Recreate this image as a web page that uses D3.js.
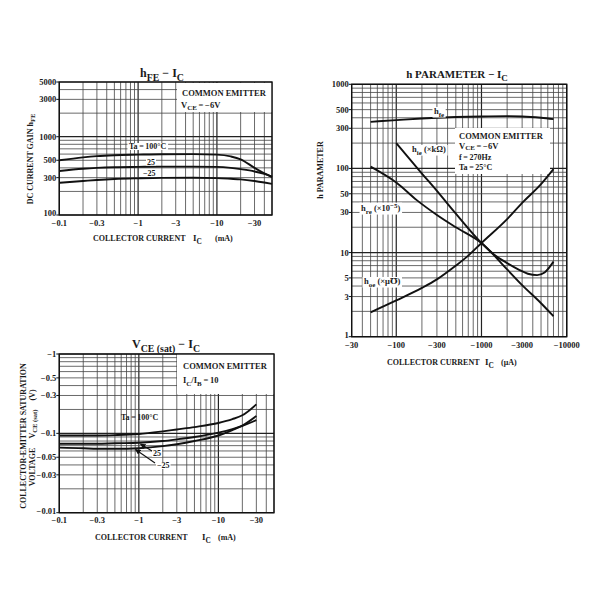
<!DOCTYPE html>
<html><head><meta charset="utf-8">
<script src="https://cdn.jsdelivr.net/npm/d3@7"></script>
<style>
body{margin:0;background:#fff}
text{font-family:"Liberation Serif","DejaVu Serif",serif;font-weight:bold;fill:#1a1a1a}
</style>
</head><body><svg id="c" width="600" height="600"></svg>
<script>
// ---------- DATA ----------
// hFE - IC  (IC in mA, magnitudes)
const hfeIc   = [0.1,0.2,0.3,0.5,1,2,5,10,15,20,30,40,50];
const hfe100  = [500,545,565,580,590,598,600,590,560,515,400,340,305];
const hfe25   = [365,390,400,408,412,415,415,412,400,385,360,335,310];
const hfeM25  = [258,272,280,288,294,298,299,296,290,285,272,260,250];
const hfeXTicks = [0.1,0.3,1,3,10,30];
const hfeXLabels = ["\u22120.1","\u22120.3","\u22121","\u22123","\u221210","\u221230"];
const hfeYTicks = [100,300,500,1000,3000,5000];
const hfeYLabels = ["100","300","500","1000","3000","5000"];

// h parameter - IC (IC in uA, magnitudes)
const hfeSmallX = [50,100,200,300,500,1000,2000,3000,5000,7000];
const hfeSmallY = [358,375,392,400,408,415,418,415,400,385];
const hieX = [100,200,300,500,1000,1400,2000,2800,3500,4500,5500,7000];
const hieY = [200,87,54,29,13,9.5,7.5,6.2,5.6,5.4,5.8,7.8];
const hreX = [50,100,174,300,500,1000,2000,3000,5000,7000];
const hreY = [105,68,42,28,20,13,6.3,4.1,2.5,1.75];
const hoeX = [50,100,200,300,500,700,1000,2000,3000,5000,7000];
const hoeY = [1.95,2.7,3.8,4.8,7,9.2,13,25,39,65,98];
const hpXTicks = [30,100,300,1000,3000,10000];
const hpXLabels = ["\u221230","\u2212100","\u2212300","\u22121000","\u22123000","\u221210000"];
const hpYTicks = [1,3,5,10,30,50,100,300,500,1000];
const hpYLabels = ["1","3","5","10","30","50","100","300","500","1000"];

// VCE(sat) - IC (IC in mA, V magnitudes)
const vceIc   = [0.1,0.2,0.3,0.5,1,2,3,5,10,15,20,30];
const vce100  = [0.094,0.094,0.094,0.095,0.098,0.106,0.112,0.12,0.135,0.151,0.169,0.232];
const vce25   = [0.074,0.074,0.074,0.075,0.076,0.08,0.084,0.09,0.102,0.113,0.124,0.147];
const vceM25  = [0.066,0.065,0.064,0.064,0.065,0.069,0.073,0.08,0.094,0.11,0.125,0.165];
const vceXTicks = [0.1,0.3,1,3,10,30];
const vceXLabels = ["\u22120.1","\u22120.3","\u22121","\u22123","\u221210","\u221230"];
const vceYTicks = [0.01,0.03,0.05,0.1,0.3,0.5,1];
const vceYLabels = ["\u22120.01","\u22120.03","\u22120.05","\u22120.1","\u22120.3","\u22120.5","\u22121"];

// ---------- DRAW ----------
const svg = d3.select("#c");

function rich(g, x, y, parts, size, anchor, transform, subShift){
  const t = g.append("text").attr("x",x).attr("y",y).attr("font-size",size)
    .attr("text-anchor",anchor||"start");
  if(transform) t.attr("transform",transform);
  let shift = 0;
  const sub = subShift==null ? 0.3 : subShift;
  parts.forEach(p=>{
    const s = typeof p==="string"?p:p[0];
    const k = typeof p==="string"?"":p[1];
    const target = k==="sub"? size*sub : k==="sup"? -size*0.4 : 0;
    const ts = t.append("tspan").text(s).attr("dy", target-shift);
    if(k) ts.attr("font-size", size*0.82);
    shift = target;
  });
  return t;
}
function withBg(g, t, pad){
  pad = pad||1;
  const b = t.node().getBBox();
  g.insert("rect", ()=>t.node()).attr("x",b.x-pad).attr("y",b.y+1).attr("width",b.width+2*pad)
    .attr("height",b.height-2).attr("fill","#fff");
}
function gridVals(d0,d1){
  const out=[];
  for(let e=Math.floor(Math.log10(d0))-1;e<=Math.ceil(Math.log10(d1));e++){
    for(let m=1;m<=9;m++){
      const v=+(m*Math.pow(10,e)).toPrecision(6);
      if(v>=d0*0.999 && v<=d1*1.001) out.push({v, major:m===1});
    }
  }
  return out;
}

function panel(cfg){
  const g = svg.append("g");
  const x = d3.scaleLog().domain(cfg.xd).range(cfg.xr);
  const y = d3.scaleLog().domain(cfg.yd).range(cfg.yr);
  const [x0,x1]=cfg.xr, [y0,y1]=cfg.yr;
  gridVals(cfg.xd[0],cfg.xd[1]).forEach(d=>{
    g.append("line").attr("x1",x(d.v)).attr("x2",x(d.v)).attr("y1",y0).attr("y2",y1)
      .attr("stroke", d.major?"#222":"#444").attr("stroke-width", d.major?1.2:0.8);
  });
  gridVals(cfg.yd[0],cfg.yd[1]).forEach(d=>{
    g.append("line").attr("x1",x0).attr("x2",x1).attr("y1",y(d.v)).attr("y2",y(d.v))
      .attr("stroke", d.major?"#222":"#444").attr("stroke-width", d.major?1.2:0.8);
  });
  (cfg.boxes||[]).forEach(b=>g.append("rect").attr("x",b[0]).attr("y",b[1]).attr("width",b[2]).attr("height",b[3]).attr("fill","#fff"));
  g.append("rect").attr("x",x0).attr("y",y1).attr("width",x1-x0).attr("height",y0-y1)
    .attr("fill","none").attr("stroke","#111").attr("stroke-width",1.4);
  const line = d3.line().x(d=>x(d[0])).y(d=>y(d[1])).curve(d3.curveMonotoneX);
  cfg.series.forEach(s=>{
    g.append("path").attr("d", line(s[0].map((v,i)=>[v,s[1][i]])))
      .attr("fill","none").attr("stroke","#111").attr("stroke-width",1.9);
  });
  cfg.xt.forEach((v,i)=>{
    g.append("text").attr("x",x(v)).attr("y",y0+(cfg.xlOff||10.5)).attr("font-size",8.5)
      .attr("text-anchor","middle").text(cfg.xl[i]);
  });
  cfg.yt.forEach((v,i)=>{
    g.append("line").attr("x1",x0-3).attr("x2",x0).attr("y1",y(v)).attr("y2",y(v)).attr("stroke","#111").attr("stroke-width",1);
    const dy = (i===0 && cfg.firstYUp) ? 1 : 3;
    g.append("text").attr("x",x0-3).attr("y",y(v)+dy).attr("font-size",8.5)
      .attr("text-anchor","end").text(cfg.yl[i]);
  });
  return {g,x,y};
}

// ---- Panel 1: hFE - IC
panel({xd:[0.1,50], xr:[59.3,272], yd:[100,5000], yr:[215,82],
  boxes:[[177,83,95,29]],
  series:[[hfeIc,hfe100],[hfeIc,hfe25],[hfeIc,hfeM25]],
  xt:hfeXTicks, xl:hfeXLabels, yt:hfeYTicks, yl:hfeYLabels, firstYUp:true});
rich(svg,162,77,["h",["FE","sub"]," \u2212 I",["C","sub"]],12,"middle");
rich(svg,182,96,["COMMON EMITTER"],8.5);
rich(svg,181,107.5,["V",["CE","sub"],"\u2009=\u2009\u22126V"],8.5);
withBg(svg, rich(svg,129,149,["Ta\u2009=\u2009100\u00B0C"],8), 1.5);
withBg(svg, rich(svg,147,164.5,["25"],8), 1);
withBg(svg, rich(svg,143,176,["\u221225"],8), 1);
rich(svg,0,0,["DC CURRENT GAIN  h",["FE","sub"]],8,"middle","translate(33,159) rotate(-90)");
rich(svg,93,241,["COLLECTOR CURRENT"],8);
rich(svg,193,241,["I",["C","sub"]],9);
rich(svg,215,241,["(mA)"],8);

// ---- Panel 2: h parameter - IC
panel({xd:[30,10000], xr:[351.7,566.7], yd:[1,1000], yr:[336.7,84.3],
  boxes:[[455,128,95,46]],
  series:[[hfeSmallX,hfeSmallY],[hieX,hieY],[hreX,hreY],[hoeX,hoeY]],
  xt:hpXTicks, xl:hpXLabels, yt:hpYTicks, yl:hpYLabels, xlOff:11, firstYUp:true});
rich(svg,457,78,["h PARAMETER \u2212 I",["C","sub"]],11,"middle");
rich(svg,459,139,["COMMON EMITTER"],8.5);
rich(svg,459,148.5,["V",["CE","sub"],"\u2009=\u2009\u22126V"],8.5,null,null,0.2);
rich(svg,459,160,["f\u2009=\u2009270Hz"],8);
rich(svg,459,170,["Ta\u2009=\u200925\u00B0C"],8);
withBg(svg, rich(svg,434,114,["h",["fe","sub"]],8.5), 1.5);
withBg(svg, rich(svg,412,152,["h",["ie","sub"]," (\u00D7k\u03A9)"],8.5), 1.5);
withBg(svg, rich(svg,361,211,["h",["re","sub"]," (\u00D710",["\u22125","sup"],")"],8.5), 1.5);
withBg(svg, rich(svg,364,284,["h",["oe","sub"]," (\u00D7\u03BC\u2127)"],8.5), 1.5);
rich(svg,0,0,["h PARAMETER"],8,"middle","translate(323,170) rotate(-90)");
rich(svg,387,365,["COLLECTOR CURRENT"],8);
rich(svg,485,365,["I",["C","sub"]],9);
rich(svg,501,365,["(\u03BCA)"],8);

// ---- Panel 3: VCE(sat) - IC
panel({xd:[0.1,50], xr:[59.3,274], yd:[0.01,1], yr:[512.7,354],
  boxes:[[177,354,97,40]],
  series:[[vceIc,vce100],[vceIc,vce25],[vceIc,vceM25]],
  xt:vceXTicks, xl:vceXLabels, yt:vceYTicks, yl:vceYLabels, firstYUp:true});
rich(svg,166,348,["V",["CE (sat)","sub"]," \u2212 I",["C","sub"]],12,"middle");
rich(svg,183,369,["COMMON EMITTER"],8.5);
rich(svg,183,383,["I",["C","sub"],"/I",["B","sub"],"\u2009=\u200910"],8.5);
rich(svg,121,420,["Ta\u2009=\u2009100\u00B0C"],8);
withBg(svg, rich(svg,153,456,["25"],8), 1);
withBg(svg, rich(svg,157,468,["\u221225"],8), 1);
svg.append("defs").append("marker").attr("id","ah").attr("viewBox","0 0 10 10").attr("refX",9).attr("refY",5)
  .attr("markerWidth",5).attr("markerHeight",5).attr("orient","auto")
  .append("path").attr("d","M0,0L10,5L0,10z").attr("fill","#111");
svg.append("line").attr("x1",152).attr("y1",451).attr("x2",140.5).attr("y2",444).attr("stroke","#111").attr("stroke-width",1.1).attr("marker-end","url(#ah)");
svg.append("line").attr("x1",155).attr("y1",463).attr("x2",135.5).attr("y2",449.5).attr("stroke","#111").attr("stroke-width",1.1).attr("marker-end","url(#ah)");
rich(svg,0,0,["COLLECTOR-EMITTER SATURATION"],8,"middle","translate(26,436) rotate(-90)");
rich(svg,0,0,["VOLTAGE"],8,"middle","translate(35,467) rotate(-90)");
rich(svg,0,0,["V",["CE (sat)","sub"]],8,"middle","translate(35,424) rotate(-90)");
rich(svg,0,0,["(V)"],8,"middle","translate(35,395) rotate(-90)");
rich(svg,95,540,["COLLECTOR CURRENT"],8);
rich(svg,202,540,["I",["C","sub"]],9);
rich(svg,218,540,["(mA)"],8);
</script></body></html>
